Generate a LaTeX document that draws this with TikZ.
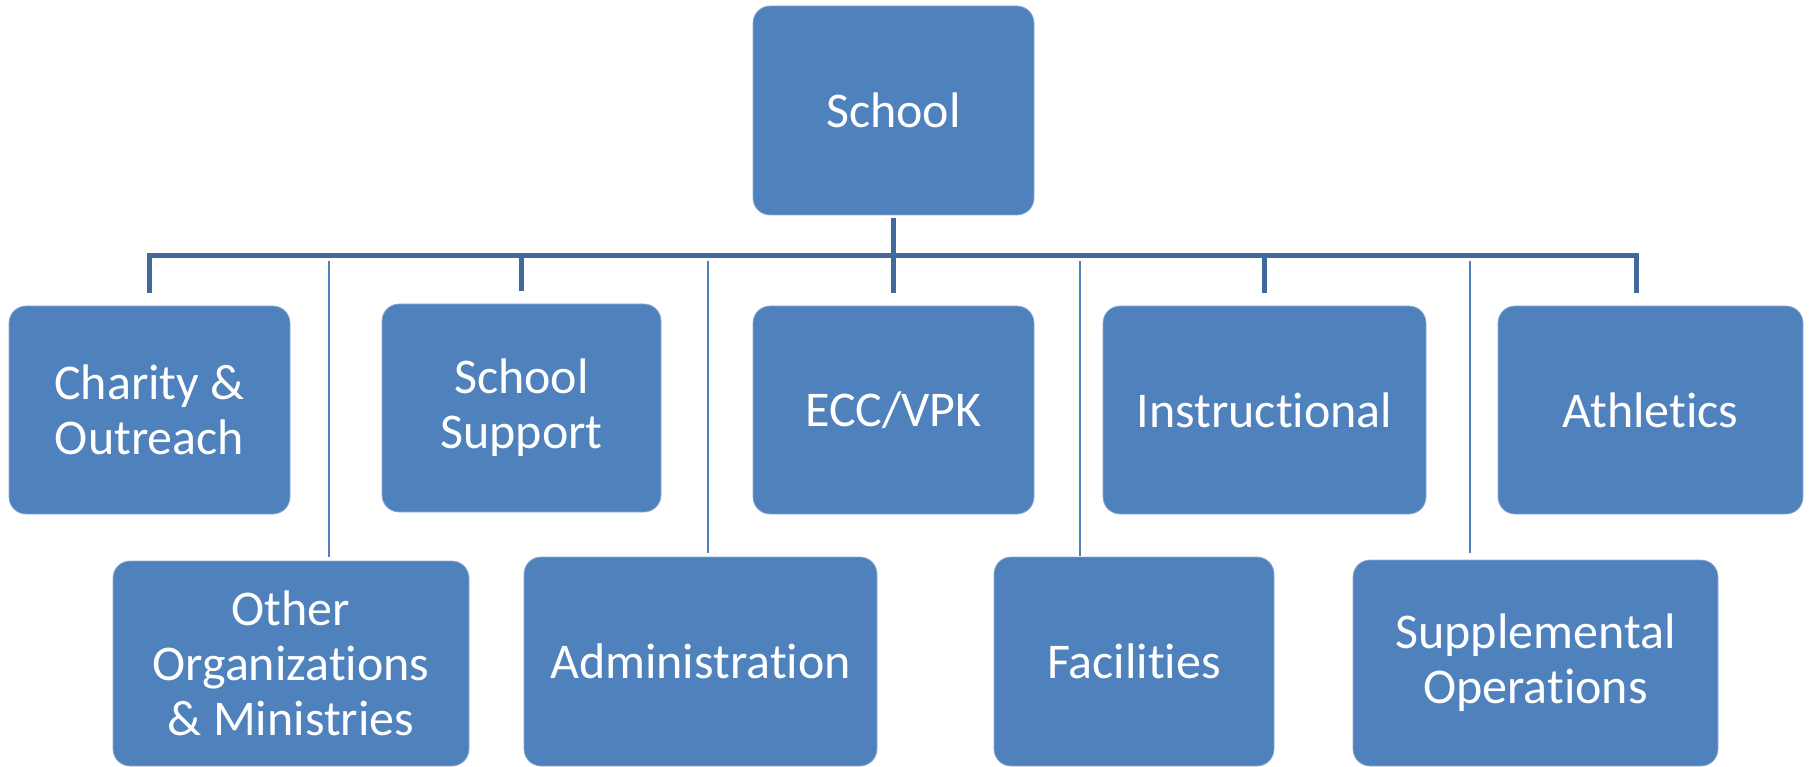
\documentclass[tikz,border=0pt]{standalone}
\usepackage{fontspec}
\setmainfont{Carlito}[Ligatures=NoCommon]
\definecolor{boxblue}{HTML}{4F81BD}
\definecolor{busblue}{HTML}{41699B}
\begin{document}
\begin{tikzpicture}[x=1pt,y=-1pt,
  unit/.style={rectangle, rounded corners=17pt, fill=boxblue,
    draw=boxblue!65!white, line width=0.7pt, text=white,
    align=center, inner sep=0pt,
    font=\fontsize{50}{55}\selectfont},
  bus/.style={busblue, line width=5.5pt},
  guide/.style={boxblue, line width=1.6pt}]
\useasboundingbox (0,0) rectangle (1812,767);

% top level
\node[unit, minimum width=281pt, minimum height=209pt] (school) at (893.5,110.5) {School};

% first row
\node[unit, minimum width=281pt, minimum height=208pt] (charity) at (149.5,410) {Charity \&\\Outreach};
\node[unit, minimum width=279pt, minimum height=208pt] (support) at (521.5,408) {School\\Support};
\node[unit, minimum width=281pt, minimum height=208pt] (ecc) at (893.5,410) {ECC/VPK};
\node[unit, minimum width=323pt, minimum height=208pt] (instr) at (1264.5,410) {Instructional};
\node[unit, minimum width=305pt, minimum height=208pt] (athl) at (1650.5,410) {Athletics};

% second row
\node[unit, minimum width=356pt, minimum height=205pt] (other) at (291,663.5) {Other\\Organizations\\\& Ministries};
\node[unit, minimum width=353pt, minimum height=209pt] (admin) at (700.5,661.5) {Administration};
\node[unit, minimum width=280pt, minimum height=209pt] (facil) at (1134,661.5) {Facilities};
\node[unit, minimum width=365pt, minimum height=206pt] (suppl) at (1535.5,663) {Supplemental\\Operations};

% elbow connectors from School to the first row
\draw[bus, shorten <=3pt, shorten >=13pt] (school.south) -- ++(0,40) -| (charity.north);
\draw[bus, shorten <=3pt, shorten >=13pt] (school.south) -- ++(0,40) -| (support.north);
\draw[bus, shorten <=3pt, shorten >=13pt] (school.south) -- ++(0,40) -| (ecc.north);
\draw[bus, shorten <=3pt, shorten >=13pt] (school.south) -- ++(0,40) -| (instr.north);
\draw[bus, shorten <=3pt, shorten >=13pt] (school.south) -- ++(0,40) -| ([xshift=-14pt]athl.north);

% thin leaders down to the second row
\coordinate (g1) at (329,261);
\coordinate (g2) at (708,261);
\coordinate (g3) at (1080,261);
\coordinate (g4) at (1470,261);
\draw[guide, shorten >=4pt] (g1) -- (g1 |- other.north);
\draw[guide, shorten >=4pt] (g2) -- (g2 |- admin.north);
\draw[guide, shorten >=1pt] (g3) -- (g3 |- facil.north);
\draw[guide, shorten >=7pt] (g4) -- (g4 |- suppl.north);
\end{tikzpicture}
\end{document}
